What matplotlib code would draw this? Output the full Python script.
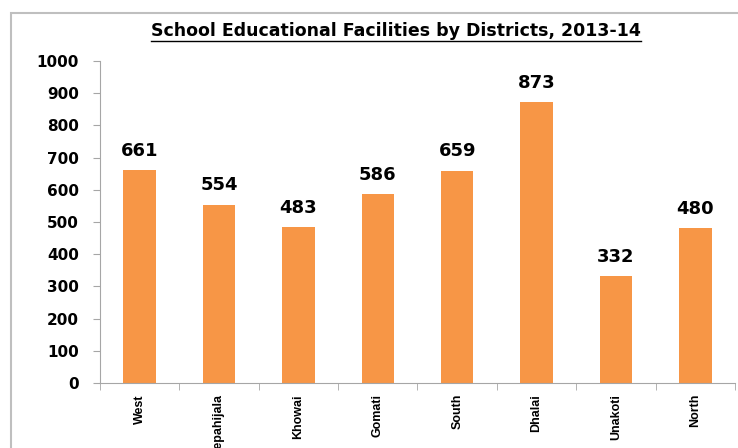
import matplotlib
matplotlib.use("Agg")
from matplotlib import pyplot as plt
from matplotlib.patches import Rectangle

districts = ["West", "Sepahijala", "Khowai", "Gomati", "South", "Dhalai", "Unakoti", "North"]
facilities = [661, 554, 483, 586, 659, 873, 332, 480]
yticks = [0, 100, 200, 300, 400, 500, 600, 700, 800, 900, 1000]

bar_color = "#F79646"

fig = plt.figure(figsize=(7.38, 4.48), dpi=100)

# outer chart frame (like the excel chart area)
frame = Rectangle((11 / 738, -0.1), 1.2, 1 - 13 / 448 + 0.1, transform=fig.transFigure,
                  fill=False, edgecolor="#BFBFBF", linewidth=1.5)
fig.add_artist(frame)

ax = fig.add_axes([100 / 738, 1 - 383 / 448, (735 - 100) / 738, (383 - 61) / 448])

x = range(len(districts))
bars = ax.bar(x, facilities, width=0.41, color=bar_color)

for xi, v in zip(x, facilities):
    ax.text(xi, v + 32, str(v), ha="center", va="bottom", fontsize=13, fontweight="bold",
            family="DejaVu Sans", color="black")

ax.set_xlim(-0.5, len(districts) - 0.5)
ax.set_ylim(0, 1000)
ax.set_yticks(yticks)
ax.set_yticklabels([str(t) for t in yticks], fontsize=11, fontweight="bold")

ax.set_xticks(list(x))
ax.set_xticklabels(districts, rotation=90, fontsize=9, fontweight="bold",
                   family=["Liberation Sans Narrow", "Liberation Sans"], va="top")
ax.set_xticks([i - 0.5 for i in range(len(districts) + 1)], minor=True)
ax.tick_params(axis="x", which="major", length=0, pad=8)
ax.tick_params(axis="x", which="minor", length=5, color="#A6A6A6", direction="out")
ax.tick_params(axis="y", length=5, color="#A6A6A6", direction="out", pad=10)

for s in ["top", "right"]:
    ax.spines[s].set_visible(False)
for s in ["left", "bottom"]:
    ax.spines[s].set_color("#A6A6A6")

title = fig.text(396 / 738, 1 - 31 / 448, "School Educational Facilities by Districts, 2013-14",
                 ha="center", va="center", fontsize=12.5, fontweight="bold",
                 family="DejaVu Sans")
# underline for title, same width as the text
fig.canvas.draw()
bb = title.get_window_extent().transformed(fig.transFigure.inverted())
fig.add_artist(plt.Line2D([bb.x0, bb.x1], [bb.y0 - 0.002, bb.y0 - 0.002],
                          transform=fig.transFigure, color="black", linewidth=1))

fig.savefig("out.png", dpi=100)
